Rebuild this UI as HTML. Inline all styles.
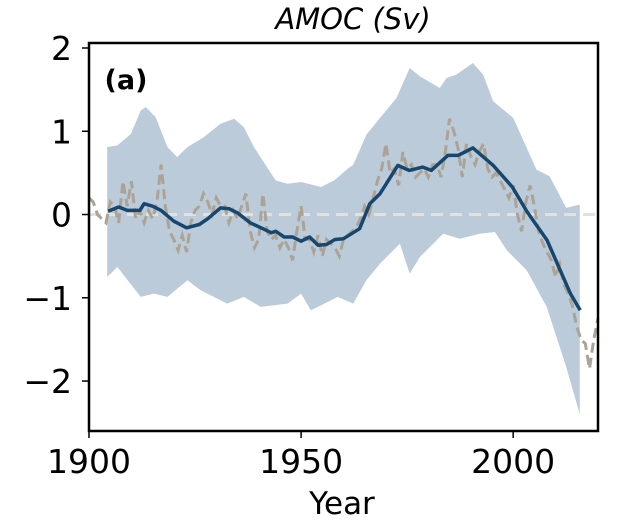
<!DOCTYPE html>
<html><head><meta charset="utf-8"><style>
html,body{margin:0;padding:0;background:#fff;}
svg text{font-family:"DejaVu Sans","Liberation Sans",sans-serif;}
</style></head><body>
<svg id="chart" width="640" height="526" viewBox="0 0 640 526">
<text x="353" y="29" text-anchor="middle" font-size="29" font-style="italic">AMOC (Sv)</text>
<g id="plot"></g>
<text x="126" y="89" text-anchor="middle" font-size="27" font-weight="bold">(a)</text>
<text x="342" y="514" text-anchor="middle" font-size="31">Year</text>
</svg>
<script>
const bandYears=[1904.3,1906.7,1909.9,1912.2,1913.4,1915.7,1918.5,1920.8,1923.2,1927.1,1931,1934.2,1936.5,1938.9,1944,1946.8,1950,1954.7,1957.8,1961,1962.3,1965.4,1968.6,1972.5,1975.6,1978,1982.7,1984.3,1986.6,1990.5,1992.9,1995.3,2000,2005.5,2008.6,2012.5,2015.7];
const bandUpper=[0.81,0.83,0.97,1.25,1.29,1.17,0.81,0.69,0.81,0.93,1.09,1.15,1.05,0.81,0.41,0.37,0.39,0.33,0.41,0.55,0.6,0.96,1.16,1.4,1.76,1.66,1.52,1.64,1.68,1.82,1.68,1.36,1.16,0.54,0.46,0.08,0.12];
const lowYears=[1904.3,1906.7,1912.2,1915.3,1918.5,1923.2,1926.3,1932.6,1936.5,1940.5,1946.8,1950,1952.3,1955.5,1958.6,1962.3,1965.4,1968.6,1973.3,1975.6,1978,1983.5,1987.4,1992.1,1995.7,1998.5,2003.2,2007.9,2012.5,2015.7];
const bandLower=[-0.75,-0.63,-0.99,-0.95,-0.99,-0.79,-0.91,-1.07,-0.99,-1.11,-1.07,-0.95,-1.15,-1.07,-0.99,-1.07,-0.79,-0.59,-0.35,-0.71,-0.51,-0.23,-0.29,-0.23,-0.21,-0.43,-0.67,-1.11,-1.83,-2.4];
const meanYears=[1904.5,1907,1909,1912,1913,1915,1917,1920,1923,1926,1928,1931,1933,1935,1938,1941,1943,1944,1946,1948,1950,1952,1954,1956,1958,1960,1963.8,1966.2,1968.6,1972.8,1975.5,1978.7,1980.7,1984.6,1987,1990.5,1995.3,1999.8,2003.3,2008,2013.5,2015.8];
const meanValues=[0.04,0.09,0.05,0.05,0.13,0.1,0.05,-0.08,-0.16,-0.12,-0.05,0.08,0.07,0.02,-0.1,-0.17,-0.22,-0.2,-0.27,-0.27,-0.32,-0.27,-0.37,-0.36,-0.3,-0.29,-0.17,0.13,0.25,0.59,0.53,0.57,0.53,0.71,0.71,0.8,0.59,0.33,0.03,-0.31,-0.95,-1.15];
const obsYears=[1900,1901,1902,1903,1904,1905,1906,1907,1908,1909,1910,1911,1912,1913,1914,1915,1916,1917,1918,1919,1920,1921,1922,1923,1924,1925,1926,1927,1928,1929,1930,1931,1932,1933,1934,1935,1936,1937,1938,1939,1940,1941,1942,1943,1944,1945,1946,1947,1948,1949,1950,1951,1952,1953,1954,1955,1956,1957,1958,1959,1960,1961,1962,1963,1964,1965,1966,1967,1968,1969,1970,1971,1972,1973,1974,1975,1976,1977,1978,1979,1980,1981,1982,1983,1984,1985,1986,1987,1988,1989,1990,1991,1992,1993,1994,1995,1996,1997,1998,1999,2000,2001,2002,2003,2004,2005,2006,2007,2008,2009,2010,2011,2012,2013,2014,2015,2016,2017,2018,2019,2020];
const obsValues=[0.2,0.15,0.0,-0.05,-0.1,0.15,0.1,-0.1,0.4,0.1,0.4,-0.05,0.05,-0.1,0.05,-0.05,0.15,0.6,0.1,-0.2,-0.3,-0.43,-0.25,-0.45,-0.1,0.05,0.1,0.25,0.15,0.0,0.2,0.1,0.1,-0.1,0.05,-0.05,0.1,0.25,-0.2,-0.4,-0.3,0.25,-0.2,-0.3,-0.25,-0.4,-0.3,-0.4,-0.55,-0.2,0.1,-0.3,-0.3,-0.45,-0.25,-0.5,-0.3,-0.35,-0.4,-0.5,-0.3,-0.25,-0.2,-0.15,-0.05,0.1,0.0,0.2,0.4,0.55,0.85,0.5,0.55,0.35,0.75,0.55,0.6,0.45,0.5,0.55,0.45,0.6,0.6,0.45,0.75,1.15,1.0,0.8,0.45,0.85,0.7,0.6,0.75,0.85,0.55,0.45,0.5,0.4,0.3,0.2,0.35,0.0,-0.2,0.15,0.35,0.1,-0.2,-0.35,-0.45,-0.55,-0.75,-0.6,-0.85,-0.95,-1.1,-1.35,-1.5,-1.55,-1.85,-1.5,-1.25];
const xTicks=[1900,1950,2000];
const yTicks=[2,1,0,-1,-2];
const yTickLabels=["2","1","0","\u22121","\u22122"];

const L=89,R=598,T=43,B=431;
const X=y=>L+(y-1900)*(R-L)/120;
const Y=v=>T+(2.06-v)*(B-T)/(2.06+2.6);
const NS="http://www.w3.org/2000/svg";
const g=document.getElementById('plot');
function mk(t,a){const e=document.createElementNS(NS,t);for(const k in a)e.setAttribute(k,a[k]);g.appendChild(e);return e;}

let d='M'+bandYears.map((yr,i)=>X(yr).toFixed(1)+','+Y(bandUpper[i]).toFixed(1)).join('L');
for(let i=lowYears.length-1;i>=0;i--)d+='L'+X(lowYears[i]).toFixed(1)+','+Y(bandLower[i]).toFixed(1);
const band=mk('path',{d:d+'Z',fill:'#bccbda'});



const zl=mk('line',{x1:L,x2:R,y1:Y(0),y2:Y(0),stroke:'#e6e0d8','stroke-width':3,'stroke-dasharray':'12,7'});



const obs=mk('polyline',{points:obsYears.map((yr,i)=>X(yr).toFixed(1)+','+Y(obsValues[i]).toFixed(1)).join(' '),fill:'none',stroke:'#aca397','stroke-width':3,'stroke-dasharray':'10,5'});



const mean=mk('polyline',{points:meanYears.map((yr,i)=>X(yr).toFixed(1)+','+Y(meanValues[i]).toFixed(1)).join(' '),fill:'none',stroke:'#17466f','stroke-width':3.5,'stroke-linejoin':'round'});



const fr=mk('rect',{x:L,y:T,width:R-L,height:B-T,fill:'none',stroke:'#000','stroke-width':2.5});



xTicks.forEach(t=>{
  const tk=mk('line',{x1:X(t),x2:X(t),y1:B,y2:B+7,stroke:'#000','stroke-width':1.5});
  
  
  const tx=mk('text',{x:X(t),y:B+42,'text-anchor':'middle','font-size':33});
  tx.textContent=t;
  
  
});
yTicks.forEach((t,i)=>{
  const tk=mk('line',{x1:L-7,x2:L,y1:Y(t),y2:Y(t),stroke:'#000','stroke-width':1.5});
  
  
  const tx=mk('text',{x:L-17,y:Y(t)+12,'text-anchor':'end','font-size':33});
  tx.textContent=yTickLabels[i];
  
  
});
</script>
</body></html>
